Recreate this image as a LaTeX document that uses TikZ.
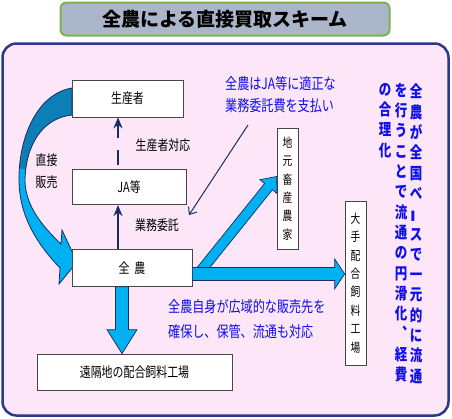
\documentclass[tikz,border=0pt]{standalone}
\usepackage{fontspec}
\setmainfont{Noto Sans CJK JP}
\newfontfamily\jpnarrow[FakeStretch=0.78]{Noto Sans CJK JP}
\usetikzlibrary{positioning}
\usetikzlibrary{calc}
\usetikzlibrary{arrows.meta}

\definecolor{framenavy}{RGB}{43,57,138}
\definecolor{framepink}{RGB}{252,230,248}
\definecolor{titlegray}{RGB}{172,182,202}
\definecolor{titlegreen}{RGB}{122,178,78}
\definecolor{boxline}{RGB}{70,70,70}
\definecolor{arrowcyan}{RGB}{0,176,240}
\definecolor{arrowteal}{RGB}{12,128,182}
\definecolor{arrowline}{RGB}{25,45,100}
\definecolor{textblue}{RGB}{15,15,235}

\newcommand{\fatarrow}[5]{%
  \coordinate (fa-s) at (#1);
  \coordinate (fa-e) at (#2);
  \coordinate (fa-b) at ($(fa-e)!#5!(fa-s)$);
  \filldraw[bigarrow] ($(fa-s)!#3!90:(fa-e)$) -- ($(fa-b)!#3!-90:(fa-s)$) -- ($(fa-b)!#4!-90:(fa-s)$) -- (fa-e)
    -- ($(fa-b)!#4!90:(fa-s)$) -- ($(fa-b)!#3!90:(fa-s)$) -- ($(fa-s)!#3!-90:(fa-e)$) -- cycle;
}
\newcommand{\directpath}{(72,88) .. controls (36,94) and (18,140) .. (19,182) .. controls (20,218) and (38,245) .. (60,268)
  -- (59,284) -- (77,262) -- (62,230) -- (61,244) .. controls (42,226) and (26,206) .. (25,182)
  .. controls (25,146) and (42,118) .. (72,115) -- cycle}

\begin{document}
\begin{tikzpicture}[x=1pt, y=-1pt,
    box/.style={draw=boxline, fill=white, line width=0.7pt, inner sep=0pt, font=\jpnarrow\fontsize{14}{16}\selectfont},
    vbox/.style={box, align=center, font=\jpnarrow\fontsize{12.5}{18.4}\selectfont},
    sidetext/.style={inner sep=0pt, align=center, font=\jpnarrow\fontsize{14}{22}\selectfont},
    note/.style={text=textblue, align=left, inner sep=0pt, anchor=north west},
    vnote/.style={text=textblue, align=center, inner sep=0pt, anchor=north, font=\jpnarrow\bfseries\fontsize{16}{20.3}\selectfont},
    bigarrow/.style={fill=arrowcyan, draw=arrowline, line width=0.7pt},
    thinarrow/.style={draw=arrowline, line width=2pt, -{Stealth[length=11pt,width=9pt]}},
    pointer/.style={draw=arrowline, line width=1pt, -{Straight Barb[length=6pt,width=10pt]}}]
    \useasboundingbox (0,0) rectangle (452,418);

    \node[draw=framenavy, fill=framepink, line width=2.5pt, rounded corners=14pt, minimum width=446pt, minimum height=372pt] (frame) at (225.5,229.5) {};
    \node[draw=titlegreen, fill=titlegray, line width=2pt, rounded corners=6pt, minimum width=329pt, minimum height=33pt,
        font=\bfseries\fontsize{19}{22}\selectfont] (title) at (225,19) {全農による直接買取スキーム};

    \fill[arrowcyan] \directpath;
    \begin{scope}
        \clip (0,40) rectangle (80,168);
        \fill[arrowteal] \directpath;
    \end{scope}
    \draw[arrowline, line width=0.8pt] \directpath;

    \node[box, minimum width=111pt, minimum height=37pt] (seisan) at (127.5,98.5) {生産者};
    \node[box, minimum width=114pt, minimum height=35pt, below=52pt of seisan.south west, anchor=north west] (ja) {JA等};
    \node[box, minimum width=120pt, minimum height=37pt, below=44pt of ja.south west, anchor=north west] (zennoh) {全\hspace{5pt}農};
    \node[box, minimum width=195pt, minimum height=36pt] (enkaku) at (134.5,372) {遠隔地の配合飼料工場};
    \node[vbox, minimum width=21pt, minimum height=121pt] (jimoto) at (287.5,188.5) {地\\元\\畜\\産\\農\\家};
    \node[vbox, minimum width=21pt, minimum height=164pt] (ote) at (355.5,283) {大\\手\\配\\合\\飼\\料\\工\\場};

    \coordinate (downtop) at ([xshift=-10pt]zennoh.south);
    \coordinate (downend) at (downtop |- enkaku.north);
    \coordinate (sidetop) at ([yshift=-6pt]zennoh.east);
    \coordinate (sideend) at (sidetop -| ote.west);
    \coordinate (fork) at ([xshift=6pt]sidetop);
    \coordinate (forkend) at ([yshift=12pt]jimoto.west);
    \fatarrow{fork}{forkend}{5pt}{11pt}{13pt}
    \fatarrow{sidetop}{sideend}{6.5pt}{15pt}{10pt}
    \fatarrow{downtop}{downend}{6.5pt}{15pt}{24pt}

    \draw[thinarrow] ([xshift=-14pt]zennoh.north) -- ([xshift=-14pt]zennoh.north |- ja.south);
    \draw[thinarrow, dash pattern=on 15pt off 12pt, dash phase=23pt] ([xshift=-11pt]ja.north) -- ([xshift=-11pt]ja.north |- seisan.south);

    \node[sidetext] (taiou) at (163,145) {生産者対応};
    \node[sidetext] (itaku) at (157,225.5) {業務委託};
    \node[sidetext] (chokusetsu) at (46.5,171.5) {直接\\販売};

    \node[note, font=\jpnarrow\fontsize{15.5}{22}\selectfont] (paynote) at (225,76) {全農はJA等に適正な\\業務委託費を支払い};
    \coordinate (paynote-tail) at (248,125);
    \coordinate (paynote-tip) at (189,215);
    \draw[pointer] (paynote-tail) -- (paynote-tip);
    \node[note, font=\jpnarrow\fontsize{15.5}{25}\selectfont] (salesnote) at (168,299) {全農自身が広域的な販売先を\\確保し、保管、流通も対応};

    \node[vnote] (vline1) at (416,84) {全\\農\\が\\全\\国\\ベ\\\rotatebox[origin=c]{90}{ー}\\ス\\で\\一\\元\\的\\に\\流\\通};
    \node[vnote] (vline2) at (401,83) {を\\行\\う\\こ\\と\\で\\流\\通\\の\\円\\滑\\化\\︑\\経\\費};
    \node[vnote] (vline3) at (385,83) {の\\合\\理\\化};
\end{tikzpicture}
\end{document}
